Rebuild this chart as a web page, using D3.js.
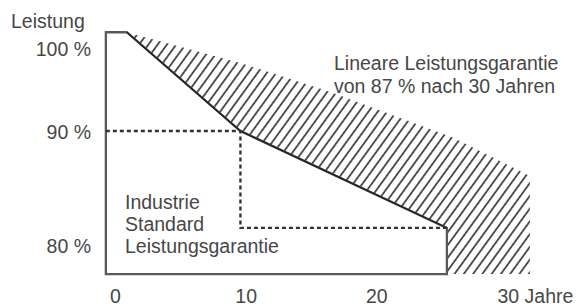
<!DOCTYPE html>
<html>
<head>
<meta charset="utf-8">
<script src="https://cdn.jsdelivr.net/npm/d3@7"></script>
<style>
  body { margin: 0; background: #fff; }
  svg text { font-family: "Liberation Sans", Arial, sans-serif; font-size: 19.5px; fill: #474747; }
</style>
</head>
<body>
<div id="chart"></div>
<script>
const width = 577, height = 307;

// tick labels
const xTicks = [0, 10, 20, 30];
const xTickLabels = ["0", "10", "20", "30 Jahre"];
const yTicks = [80, 90, 100];
const yTickLabels = ["80 %", "90 %", "100 %"];

// industrie standard (step warranty), years / percent
const standardYears = [-0.7, -0.7, 0.9, 9.6, 25.4, 25.4];
const standardValues = [77.45, 101.9, 101.9, 90, 81.5, 77.45];

// dotted guide of the standard steps
const guideYears = [-0.7, 9.6, 9.6, 25.4];
const guideValues = [90, 90, 81.5, 81.5];

// upper edge of the linear warranty (hatched area)
const linearYears = [0.9, 9.6, 16.5, 25.9, 31.75];
const linearValues = [101.9, 98.2, 94.7, 89.4, 86.05];
const floorValue = 77.45;

const svg = d3.select("#chart")
    .append("svg")
    .attr("width", width)
    .attr("height", height);

const x = d3.scaleLinear().domain([0, 30]).range([115, 507]);
const y = d3.scaleLinear().domain([80, 90, 100]).range([245, 131, 48]);

const zip = (xs, ys) => xs.map((v, i) => [v, ys[i]]);
const line = d3.line().x(d => x(d[0])).y(d => y(d[1]));

// hatch pattern
svg.append("defs").append("pattern")
    .attr("id", "hatch")
    .attr("patternUnits", "userSpaceOnUse")
    .attr("width", 7.5)
    .attr("height", 10)
    .attr("patternTransform", "rotate(36)")
    .append("line")
    .attr("x1", 3.75).attr("y1", -1)
    .attr("x2", 3.75).attr("y2", 11)
    .attr("stroke", "#111")
    .attr("stroke-width", 1.4);

// hatched area between standard and linear warranty
const upper = zip(linearYears, linearValues);
const last = linearYears[linearYears.length - 1];
const lower = zip(standardYears.slice(2, 5), standardValues.slice(2, 5)).reverse();
const hatchPts = upper
    .concat([[last, floorValue], [standardYears[5], floorValue]])
    .concat(lower);
svg.append("path")
    .attr("d", line(hatchPts) + "Z")
    .attr("fill", "url(#hatch)")
    .attr("stroke", "none");

// standard outline
svg.append("path")
    .attr("d", line(zip(standardYears, standardValues)) + "Z")
    .attr("fill", "none")
    .attr("stroke", "#5a5a5a")
    .attr("stroke-width", 2.3);

// darker curve on top
svg.append("path")
    .attr("d", line(zip(standardYears.slice(2, 5), standardValues.slice(2, 5))))
    .attr("fill", "none")
    .attr("stroke", "#222")
    .attr("stroke-width", 1.5);

// dotted guide lines
svg.append("path")
    .attr("d", line(zip(guideYears, guideValues)))
    .attr("fill", "none")
    .attr("stroke", "#333")
    .attr("stroke-width", 2.4)
    .attr("stroke-dasharray", "4,3");

// y axis labels
const yAxis = svg.append("g")
    .attr("transform", "translate(91,0)")
    .call(d3.axisLeft(y).tickValues(yTicks).tickSize(0).tickPadding(0)
        .tickFormat((d, i) => yTickLabels[i]));
yAxis.select(".domain").remove();
yAxis.selectAll("text").attr("dy", "0.36em");

// x axis labels
const xAxis = svg.append("g")
    .attr("transform", "translate(0,289)")
    .call(d3.axisBottom(x).tickValues(xTicks).tickSize(0).tickPadding(0)
        .tickFormat((d, i) => xTickLabels[i]));
xAxis.select(".domain").remove();
xAxis.selectAll("text").filter((d, i) => i === xTicks.length - 1)
    .attr("text-anchor", "start")
    .attr("dx", -10);
svg.selectAll("g").attr("font-size", null).attr("font-family", null);

// titles and annotations
svg.append("text").attr("x", 11).attr("y", 28).text("Leistung");

svg.append("text").attr("x", 334).attr("y", 70).text("Lineare Leistungsgarantie");
svg.append("text").attr("x", 334).attr("y", 93).text("von 87 % nach 30 Jahren");

const noteLines = ["Industrie", "Standard", "Leistungsgarantie"];
svg.append("text")
    .attr("x", 125)
    .attr("y", 209)
    .selectAll("tspan")
    .data(noteLines)
    .join("tspan")
    .attr("x", 125)
    .attr("dy", (d, i) => i === 0 ? 0 : 22)
    .text(d => d);
</script>
</body>
</html>
